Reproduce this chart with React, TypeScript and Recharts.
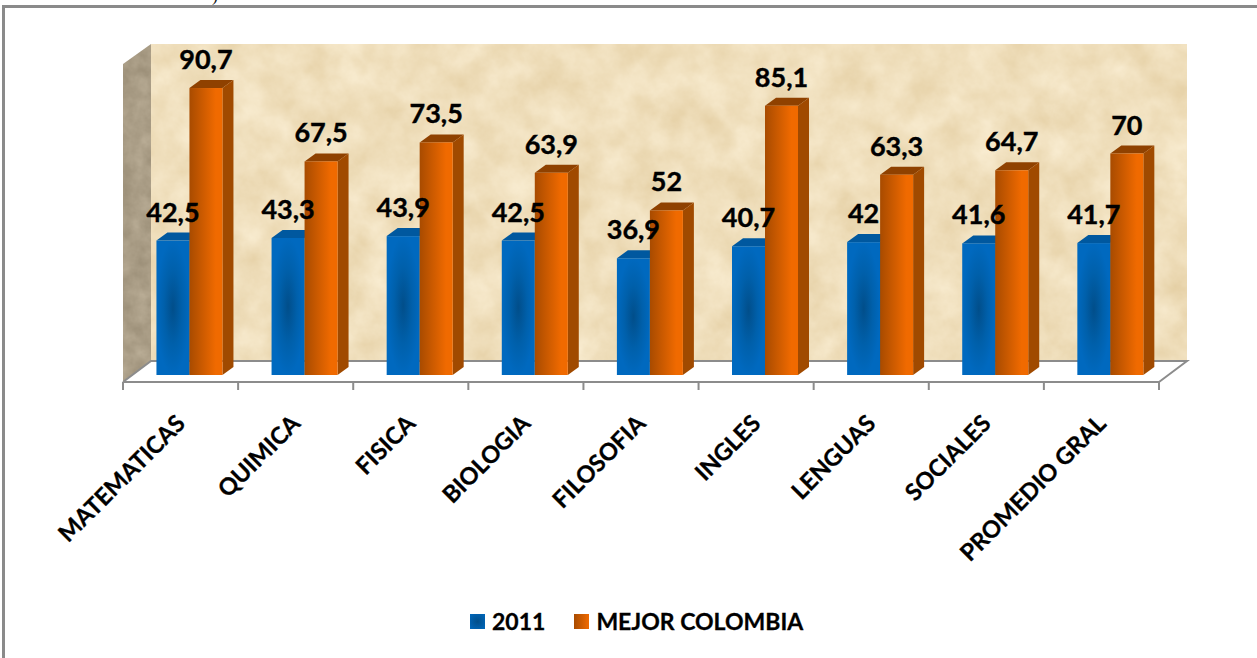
import { BarChart, Bar, XAxis, YAxis, Legend, LabelList, usePlotArea } from 'recharts';

const categories = ['MATEMATICAS', 'QUIMICA', 'FISICA', 'BIOLOGIA', 'FILOSOFIA', 'INGLES', 'LENGUAS', 'SOCIALES', 'PROMEDIO GRAL'];
const values2011 = [42.5, 43.3, 43.9, 42.5, 36.9, 40.7, 42, 41.6, 41.7];
const valuesMejor = [90.7, 67.5, 73.5, 63.9, 52, 85.1, 63.3, 64.7, 70];

const data = categories.map((name, i) => ({ name, y2011: values2011[i], mejor: valuesMejor[i] }));

const FONT = 'Lato, "Open Sans", sans-serif';
const SHIFT = 8.45; // bars sit inside the floor depth, not on the tick band
const DX = 11;
const DY = 8;
const WALL_DX = 28;
const WALL_DY = 21;
const GREY = '#8c8c8c';

function comma(v: unknown): string {
  return String(v).replace('.', ',');
}

function Scene() {
  const plot = usePlotArea();
  if (!plot) return null;
  const left = plot.x;
  const right = plot.x + plot.width;
  const front = plot.y + plot.height;
  const top = plot.y + 5.4;
  const backX = left + WALL_DX;
  const backRight = right + WALL_DX;
  const backFloor = front - WALL_DY;
  const backTop = top - WALL_DY + 1;
  const band = plot.width / categories.length;
  return (
    <g>
      <rect x={backX} y={backTop} width={backRight - backX} height={backFloor - backTop} fill="#efdfb9" filter="url(#parchment)" />
      <polygon points={`${left},${top} ${backX},${backTop} ${backX},${backFloor} ${left},${front}`} fill="#a89c86" filter="url(#stone)" />
      <polyline points={`${left},${front} ${backX},${backFloor} ${backRight},${backFloor} ${right},${front}`} fill="none" stroke={GREY} strokeWidth={2} />
      {categories.map((c, i) => (
        <line key={c} x1={left + band * i} x2={left + band * i} y1={front} y2={front + 8} stroke={GREY} strokeWidth={2} />
      ))}
      <line x1={right} x2={right} y1={front} y2={front + 8} stroke={GREY} strokeWidth={2} />
    </g>
  );
}

function Bar3D({ x, y, width, height, fill, side, roof }: any) {
  const l = x + SHIFT;
  const r = l + width;
  const b = y + height;
  return (
    <g>
      <polygon points={`${l},${y} ${l + DX},${y - DY} ${r + DX},${y - DY} ${r},${y}`} fill={roof} />
      <polygon points={`${r},${y} ${r + DX},${y - DY} ${r + DX},${b - DY} ${r},${b}`} fill={side} />
      <rect x={l} y={y} width={width} height={height} fill={fill} />
    </g>
  );
}

function ValueLabel({ x, y, width, value }: any) {
  return (
    <text x={x + width / 2 + SHIFT} y={y - 19} textAnchor="middle" fontFamily={FONT} fontWeight={700} fontSize={27} fill="#000" stroke="#000" strokeWidth={0.4}>
      {comma(value)}
    </text>
  );
}

function AxisTick({ x, y, payload }: any) {
  return (
    <text
      transform={`translate(${x + 6},${y + 35}) rotate(-45)`}
      textAnchor="end"
      fontFamily={FONT}
      fontWeight={700}
      fontSize={23.5}
      fill="#000"
      stroke="#000"
      strokeWidth={0.3}
    >
      {payload.value}
    </text>
  );
}

function ChartLegend() {
  const swatch = (background: string) => (
    <span style={{ display: 'inline-block', width: 15, height: 15, background }} />
  );
  const label = { fontFamily: FONT, fontWeight: 700, fontSize: 23, color: '#000', lineHeight: '22px', WebkitTextStroke: '0.3px #000' };
  return (
    <div style={{ display: 'flex', alignItems: 'center' }}>
      {swatch('radial-gradient(#014e8a, #0068bd)')}
      <span style={{ ...label, marginLeft: 7, marginRight: 29 }}>2011</span>
      {swatch('linear-gradient(to right, #a84b00, #f06a00)')}
      <span style={{ ...label, marginLeft: 7 }}>MEJOR COLOMBIA</span>
    </div>
  );
}

export default function App() {
  return (
    <div style={{ position: 'absolute', left: 0, top: 0, width: 1257, height: 658, background: '#fff', overflow: 'hidden' }}>
      <div style={{ position: 'absolute', left: 2, top: 5, right: 0, height: 3, background: '#8a8a8a' }} />
      <div style={{ position: 'absolute', left: 2, top: 5, bottom: 0, width: 3, background: '#8a8a8a' }} />
      <div style={{ position: 'absolute', left: 212, top: -15, fontFamily: 'Liberation Serif, serif', fontSize: 18, lineHeight: '20px', color: '#111' }}>)</div>
      <BarChart
        width={1257}
        height={658}
        data={data}
        barSize={33}
        barGap={0}
        margin={{ top: 58.6, right: 98, bottom: 224, left: 123 }}
        style={{ position: 'absolute', left: 0, top: 0 }}
      >
        <defs>
          <filter id="parchment" x="0" y="0" width="100%" height="100%" colorInterpolationFilters="sRGB">
            <feTurbulence type="fractalNoise" baseFrequency="0.03" numOctaves={5} seed={7} />
            <feColorMatrix type="matrix" values="0.09 0 0 0 0.895  0.13 0 0 0 0.81  0.2 0 0 0 0.64  0 0 0 0 1" />
            <feComposite in2="SourceGraphic" operator="in" />
          </filter>
          <filter id="stone" x="0" y="0" width="100%" height="100%" colorInterpolationFilters="sRGB">
            <feTurbulence type="fractalNoise" baseFrequency="0.06" numOctaves={4} seed={3} />
            <feColorMatrix type="matrix" values="0.15 0 0 0 0.59  0.15 0 0 0 0.54  0.15 0 0 0 0.45  0 0 0 0 1" />
            <feComposite in2="SourceGraphic" operator="in" />
          </filter>
          <radialGradient id="blueFace">
            <stop offset="0" stopColor="#014e8a" />
            <stop offset="0.55" stopColor="#0060ab" />
            <stop offset="1" stopColor="#0069bf" />
          </radialGradient>
          <linearGradient id="orangeFace" x1="0" x2="1" y1="0" y2="0">
            <stop offset="0" stopColor="#a84b00" />
            <stop offset="0.8" stopColor="#f06a00" />
            <stop offset="1" stopColor="#f06a00" />
          </linearGradient>
        </defs>
        <Scene />
        <XAxis dataKey="name" interval={0} tick={AxisTick} tickLine={false} axisLine={{ stroke: GREY, strokeWidth: 2 }} />
        <YAxis hide domain={[0, 100]} padding={{ top: 0, bottom: 7 }} />
        <Bar
          dataKey="y2011"
          name="2011"
          fill="url(#blueFace)"
          isAnimationActive={false}
          shape={(p: any) => <Bar3D {...p} side="#004f8e" roof="#00589f" />}
        >
          <LabelList dataKey="y2011" content={ValueLabel} />
        </Bar>
        <Bar
          dataKey="mejor"
          name="MEJOR COLOMBIA"
          fill="url(#orangeFace)"
          isAnimationActive={false}
          shape={(p: any) => <Bar3D {...p} side="#a04a00" roof="#8f4100" />}
        >
          <LabelList dataKey="mejor" content={ValueLabel} />
        </Bar>
        <Legend content={ChartLegend} wrapperStyle={{ position: 'absolute', left: 470, top: 610, width: 360, bottom: 'auto' }} />
      </BarChart>
    </div>
  );
}
